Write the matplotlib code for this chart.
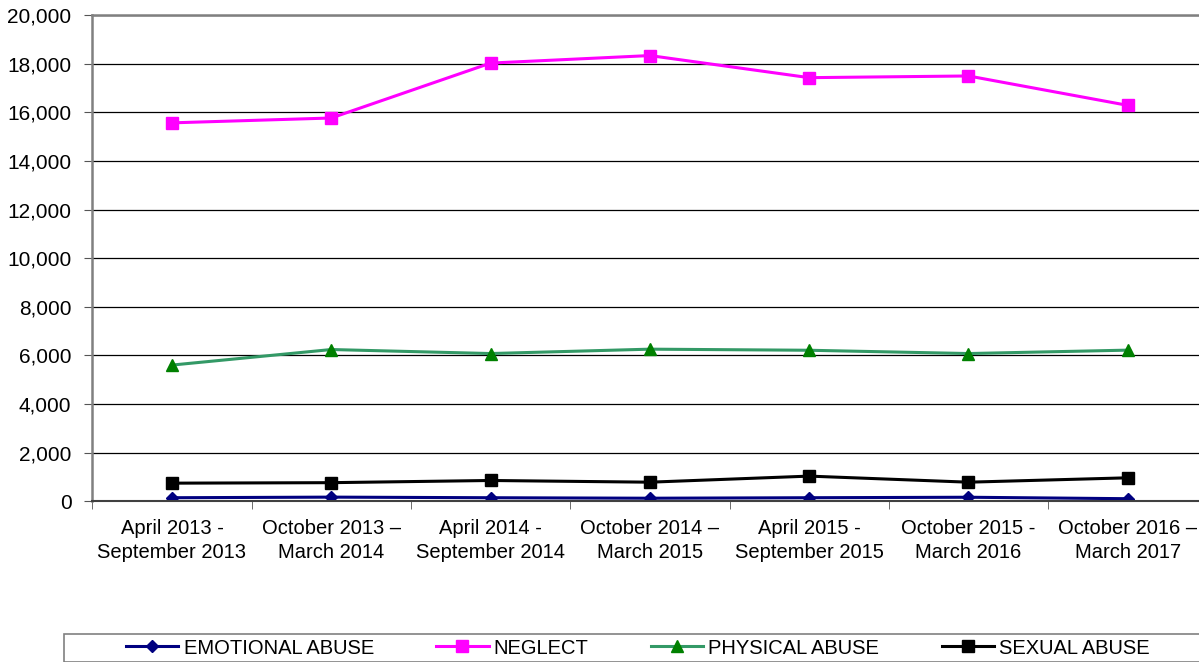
import matplotlib.pyplot as plt
from matplotlib.patches import Rectangle
from matplotlib.ticker import FuncFormatter, MultipleLocator

plt.rcParams['font.family'] = ['Liberation Sans', 'DejaVu Sans']

periods = ['April 2013 -\nSeptember 2013', 'October 2013 \u2013\nMarch 2014',
           'April 2014 -\nSeptember 2014', 'October 2014 \u2013\nMarch 2015',
           'April 2015 -\nSeptember 2015', 'October 2015 -\nMarch 2016',
           'October 2016 \u2013\nMarch 2017']
emotional = [140, 165, 140, 120, 140, 160, 100]
neglect = [15570, 15770, 18030, 18340, 17430, 17500, 16290]
physical = [5600, 6240, 6075, 6255, 6210, 6075, 6215]
sexual = [740, 760, 850, 780, 1030, 780, 960]

fig = plt.figure(figsize=(11.99, 6.62), dpi=100)
ax = fig.add_axes([0.077, 0.243, 0.93, 0.734])

x = list(range(len(periods)))
ax.plot(x, emotional, color='#000080', lw=2.2, marker='D', ms=6, label='EMOTIONAL ABUSE')
ax.plot(x, neglect, color='#FF00FF', lw=2.2, marker='s', ms=8, label='NEGLECT')
ax.plot(x, physical, color='#339966', lw=2.2, marker='^', ms=8,
        mfc='#008000', mec='#008000', label='PHYSICAL ABUSE')
ax.plot(x, sexual, color='black', lw=2.2, marker='s', ms=8, label='SEXUAL ABUSE')

ax.set_xlim(-0.5, len(periods) - 0.5)
ax.set_ylim(0, 20000)
ax.yaxis.set_major_locator(MultipleLocator(2000))
ax.yaxis.set_major_formatter(FuncFormatter(lambda v, p: f'{int(v):,}'))
ax.set_xticks(x)
ax.set_xticklabels(periods, fontsize=14.5, linespacing=1.3)
ax.set_xticks([i + 0.5 for i in range(-1, len(periods))], minor=True)
ax.tick_params(axis='x', which='major', length=0, pad=13)
ax.tick_params(axis='x', which='minor', length=6, color='#555555')
ax.tick_params(axis='y', labelsize=15, length=6, color='#555555', pad=9)

ax.grid(axis='y', color='black', lw=0.9)
ax.set_axisbelow(True)
for s in ['left', 'top', 'right']:
    ax.spines[s].set_color('#808080')
    ax.spines[s].set_linewidth(1.8)
ax.spines['bottom'].set_color('#404040')
ax.spines['bottom'].set_linewidth(1.5)

# legend frame runs off the right edge in the original
fig.patches.append(Rectangle((64 / 1199, 0.0), 1.2, 28 / 662, transform=fig.transFigure,
                             fill=False, edgecolor='#808080', lw=1.2))
fig.legend(loc='center', bbox_to_anchor=(0.532, 0.0211), ncol=4, frameon=False,
           fontsize=14.5, handlelength=2.6, handletextpad=0.25, columnspacing=3.1,
           borderpad=0.0)

fig.savefig('out.png', dpi=100)
